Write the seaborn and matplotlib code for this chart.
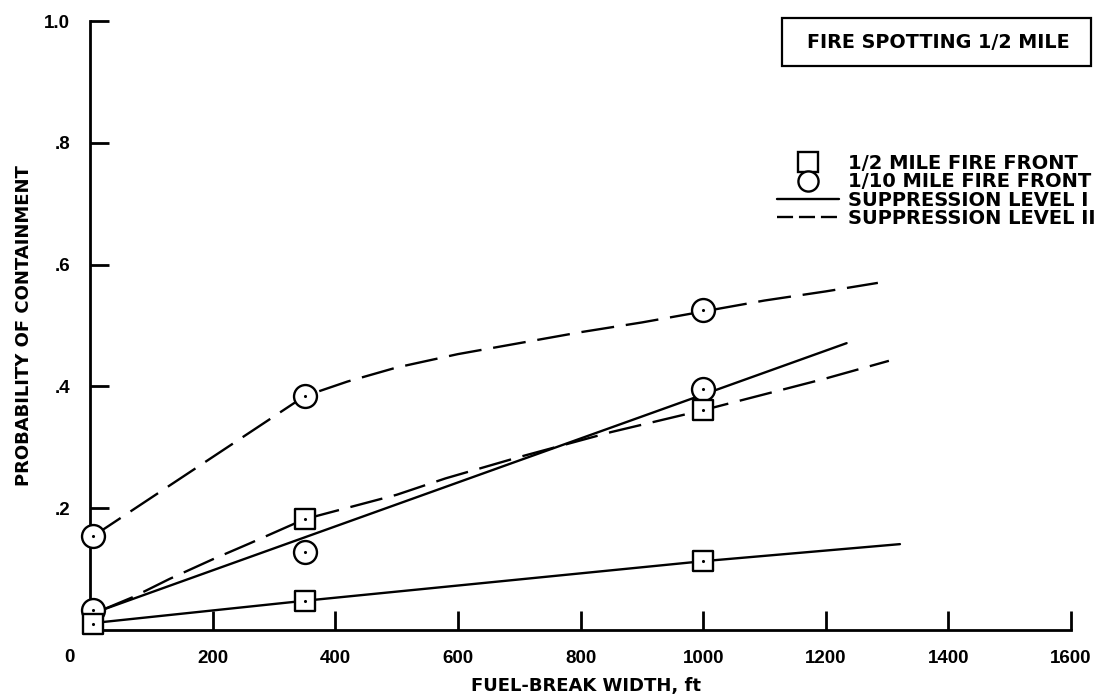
import matplotlib
matplotlib.use("Agg")
import matplotlib.pyplot as plt
import pandas as pd
import seaborn as sns
from matplotlib.lines import Line2D
from matplotlib.patches import Rectangle

# Observed containment probabilities by fuel-break width (ft)
half_mile_width = [5, 350, 350, 1000, 1000]
half_mile_prob = [0.010, 0.048, 0.182, 0.113, 0.361]
tenth_mile_width = [5, 5, 350, 350, 1000, 1000]
tenth_mile_prob = [0.033, 0.154, 0.128, 0.384, 0.396, 0.525]

# Smoothed curves
tenth_lvl2_x = [5, 350, 420, 500, 600, 700, 800, 900, 1000, 1100, 1200, 1285]
tenth_lvl2_y = [0.154, 0.384, 0.408, 0.431, 0.453, 0.471, 0.489, 0.505, 0.523, 0.541, 0.556, 0.570]
tenth_lvl1_x = [20, 1234]
tenth_lvl1_y = [0.033, 0.471]
half_lvl2_x = [20, 70, 130, 200, 260, 350, 500, 580, 700, 850, 1000, 1100, 1200, 1303]
half_lvl2_y = [0.033, 0.054, 0.084, 0.116, 0.142, 0.182, 0.222, 0.249, 0.284, 0.325, 0.361, 0.387, 0.413, 0.442]
half_lvl1_x = [20, 350, 1000, 1321]
half_lvl1_y = [0.013, 0.048, 0.113, 0.141]

x_ticks = [200, 400, 600, 800, 1000, 1200, 1400, 1600]
y_ticks = [0.2, 0.4, 0.6, 0.8, 1.0]
y_tick_labels = [".2", ".4", ".6", ".8", "1.0"]

legend_labels = ["1/2 MILE FIRE FRONT", "1/10 MILE FIRE FRONT",
                 "SUPPRESSION LEVEL I", "SUPPRESSION LEVEL II"]
box_title = "FIRE SPOTTING 1/2 MILE"

curves = pd.concat([
    pd.DataFrame({"width": tenth_lvl2_x, "prob": tenth_lvl2_y, "curve": "tenth II", "level": "II"}),
    pd.DataFrame({"width": tenth_lvl1_x, "prob": tenth_lvl1_y, "curve": "tenth I", "level": "I"}),
    pd.DataFrame({"width": half_lvl2_x, "prob": half_lvl2_y, "curve": "half II", "level": "II"}),
    pd.DataFrame({"width": half_lvl1_x, "prob": half_lvl1_y, "curve": "half I", "level": "I"}),
], ignore_index=True)

sns.set_style("white")
plt.rcParams["font.family"] = ["DejaVu Sans"]
plt.rcParams["font.weight"] = "bold"
for key in ("text.color", "axes.labelcolor", "xtick.color", "ytick.color"):
    plt.rcParams[key] = "black"

W, H = 1098, 700
fig = plt.figure(figsize=(W / 100, H / 100), dpi=100)
ax_left, ax_right, ax_top, ax_bottom = 90, 1071, 21, 630
ax = fig.add_axes([ax_left / W, 1 - ax_bottom / H,
                   (ax_right - ax_left) / W, (ax_bottom - ax_top) / H])

LW = 1.7
sns.lineplot(data=curves, x="width", y="prob", units="curve", estimator=None,
             style="level", dashes={"I": "", "II": (14, 5)}, color="black",
             linewidth=LW, sort=False, legend=False, ax=ax, zorder=3)

sns.scatterplot(x=tenth_mile_width, y=tenth_mile_prob, marker="o", s=16.5 ** 2,
                facecolor="white", edgecolor="black", linewidth=LW, ax=ax,
                zorder=6, clip_on=False)
sns.scatterplot(x=half_mile_width, y=half_mile_prob, marker="s", s=15 ** 2,
                facecolor="white", edgecolor="black", linewidth=LW, ax=ax,
                zorder=7, clip_on=False)
sns.scatterplot(x=tenth_mile_width + half_mile_width,
                y=tenth_mile_prob + half_mile_prob, marker="o", s=5,
                color="black", linewidth=0, ax=ax, zorder=8, clip_on=False)

ax.set_xlim(0, 1600)
ax.set_ylim(0, 1.0)
sns.despine(ax=ax)
for side in ("left", "bottom"):
    ax.spines[side].set_linewidth(2.0)
    ax.spines[side].set_color("black")

ax.set_xticks(x_ticks)
ax.set_yticks(y_ticks)
ax.set_yticklabels(y_tick_labels)
ax.tick_params(bottom=True, left=True, direction="in", length=13.5,
               width=2.0, color="black", labelcolor="black", pad=14.4)
for lab in ax.get_xticklabels() + ax.get_yticklabels():
    lab.set_family(["Liberation Sans"])
    lab.set_fontsize(13.5)
    lab.set_fontweight("bold")

ax.annotate("0", xy=(0, 0), xytext=(-15, -19.5), textcoords="offset points",
            ha="center", va="center", fontsize=13.5, fontweight="bold",
            family=["Liberation Sans"], annotation_clip=False)

ax.set_xlabel("FUEL-BREAK WIDTH, ft", fontsize=13, fontweight="bold")
ax.xaxis.set_label_coords(0.506, -0.077)
ax.set_ylabel("PROBABILITY OF CONTAINMENT", fontsize=13, fontweight="bold")
ax.yaxis.set_label_coords(-0.058, 0.5)

# Title box in the upper right corner
fig.patches.append(Rectangle((782 / W, 1 - 66 / H), 309 / W, 48 / H,
                             transform=fig.transFigure, fill=False,
                             edgecolor="black", linewidth=1.6))
fig.text(938 / W, 1 - 43 / H, box_title, ha="center", va="center",
         fontsize=13.8, fontweight="bold")

handles = [
    Line2D([], [], marker="s", ls="none", ms=14, mfc="white", mec="black", mew=LW),
    Line2D([], [], marker="o", ls="none", ms=14.5, mfc="white", mec="black", mew=LW),
    Line2D([], [], color="black", lw=LW),
    Line2D([], [], color="black", lw=LW, dashes=(6.8, 2.5)),
]
fig.legend(handles, legend_labels, loc="upper left",
           bbox_to_anchor=(777 / W, 1 - 154 / H), frameon=False,
           borderpad=0, borderaxespad=0, handlelength=3.2, handletextpad=0.45,
           labelspacing=-0.035, prop={"size": 14, "weight": "bold"})

fig.savefig("out.png", dpi=100)
